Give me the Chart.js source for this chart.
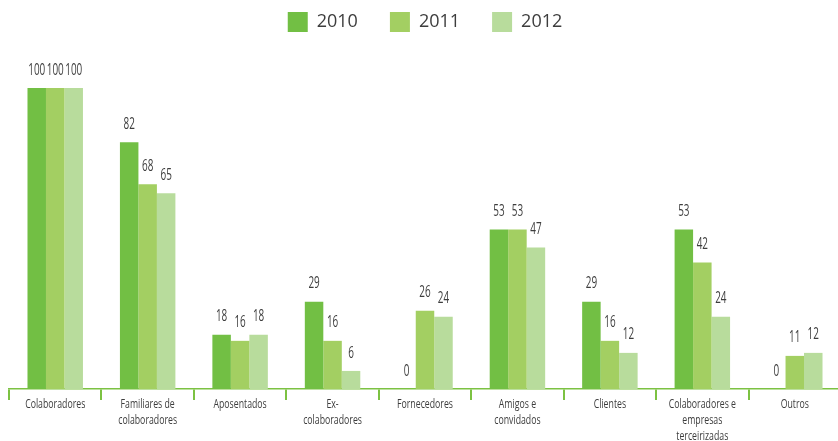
<!DOCTYPE html>
<html lang="pt">
<head>
    <meta charset="UTF-8">
    <title>Público por ano</title>
    <script src="https://cdn.jsdelivr.net/npm/chart.js"></script>
    <style>
        html, body {
            margin: 0;
            padding: 0;
            background: #ffffff;
            overflow: hidden;
        }
        #wrap {
            width: 841px;
            height: 441px;
        }
    </style>
</head>
<body>
    <div id="wrap"><canvas id="grafico"></canvas></div>

    <script>
        const categorias = [
            ['Colaboradores'],
            ['Familiares de', 'colaboradores'],
            ['Aposentados'],
            ['Ex-', 'colaboradores'],
            ['Fornecedores'],
            ['Amigos e', 'convidados'],
            ['Clientes'],
            ['Colaboradores e', 'empresas', 'terceirizadas'],
            ['Outros']
        ];
        const anos = ['2010', '2011', '2012'];
        const valores2010 = [100, 82, 18, 29, 0, 53, 29, 53, 0];
        const valores2011 = [100, 68, 16, 16, 26, 53, 16, 42, 11];
        const valores2012 = [100, 65, 18, 6, 24, 47, 12, 24, 12];
        const cores = ['#72bf44', '#a3cf62', '#b8dc9c'];

        const fonte = "'Open Sans', sans-serif";
        const corTexto = '#3d3d3d';
        const verde = '#7cc242';

        // texto estreito: desenha comprimido na horizontal
        function textoEstreito(ctx, texto, x, y, escala) {
            ctx.save();
            ctx.translate(x, y);
            ctx.scale(escala, 1);
            ctx.fillText(texto, 0, 0);
            ctx.restore();
        }

        // valor acima de cada barra
        const rotulosValor = {
            id: 'rotulosValor',
            afterDatasetsDraw(chart) {
                const ctx = chart.ctx;
                ctx.save();
                ctx.font = '16px ' + fonte;
                ctx.fillStyle = corTexto;
                ctx.textAlign = 'center';
                ctx.textBaseline = 'middle';
                chart.data.datasets.forEach((ds, i) => {
                    chart.getDatasetMeta(i).data.forEach((bar, j) => {
                        textoEstreito(ctx, String(ds.data[j]), bar.x, bar.y - 18, 0.62);
                    });
                });
                ctx.restore();
            }
        };

        // nomes das categorias sob o eixo
        const rotulosEixo = {
            id: 'rotulosEixo',
            afterDraw(chart) {
                const ctx = chart.ctx;
                const eixo = chart.scales.x;
                ctx.save();
                ctx.font = '12.5px ' + fonte;
                ctx.fillStyle = corTexto;
                ctx.textAlign = 'center';
                ctx.textBaseline = 'middle';
                chart.data.labels.forEach((linhas, i) => {
                    const x = eixo.getPixelForTick(i);
                    linhas.forEach((linha, k) => {
                        textoEstreito(ctx, linha, x, eixo.top + 15 + k * 16, 0.7);
                    });
                });
                ctx.restore();
            }
        };

        // reserva espaço abaixo da legenda
        const espacoLegenda = {
            id: 'espacoLegenda',
            beforeInit(chart) {
                const fitOriginal = chart.legend.fit;
                chart.legend.fit = function () {
                    fitOriginal.bind(chart.legend)();
                    this.height = 108;
                };
            }
        };

        const series = [valores2010, valores2011, valores2012];

        new Chart(document.getElementById('grafico'), {
            type: 'bar',
            data: {
                labels: categorias,
                datasets: series.map((v, i) => ({
                    label: anos[i],
                    data: v,
                    backgroundColor: cores[i],
                    categoryPercentage: 0.6,
                    barPercentage: 1.0
                }))
            },
            options: {
                responsive: true,
                maintainAspectRatio: false,
                animation: false,
                layout: {
                    padding: { left: 9, right: 0, top: -20, bottom: 0 }
                },
                plugins: {
                    tooltip: { enabled: false },
                    legend: {
                        position: 'top',
                        labels: {
                            boxWidth: 20,
                            boxHeight: 20,
                            padding: 32,
                            color: corTexto,
                            font: { family: fonte, size: 18 }
                        }
                    }
                },
                scales: {
                    x: {
                        afterFit(axis) { axis.height = 52; },
                        grid: {
                            offset: true,
                            drawOnChartArea: false,
                            drawTicks: true,
                            tickLength: 11,
                            color: verde,
                            lineWidth: 2
                        },
                        border: { display: true, color: verde, width: 1.5 },
                        ticks: {
                            color: 'rgba(0,0,0,0)',
                            padding: 0,
                            maxRotation: 0,
                            autoSkip: false,
                            font: { family: fonte, size: 12 }
                        }
                    },
                    y: {
                        display: false,
                        min: 0,
                        max: 100
                    }
                }
            },
            plugins: [rotulosValor, rotulosEixo, espacoLegenda]
        });
    </script>
</body>
</html>
